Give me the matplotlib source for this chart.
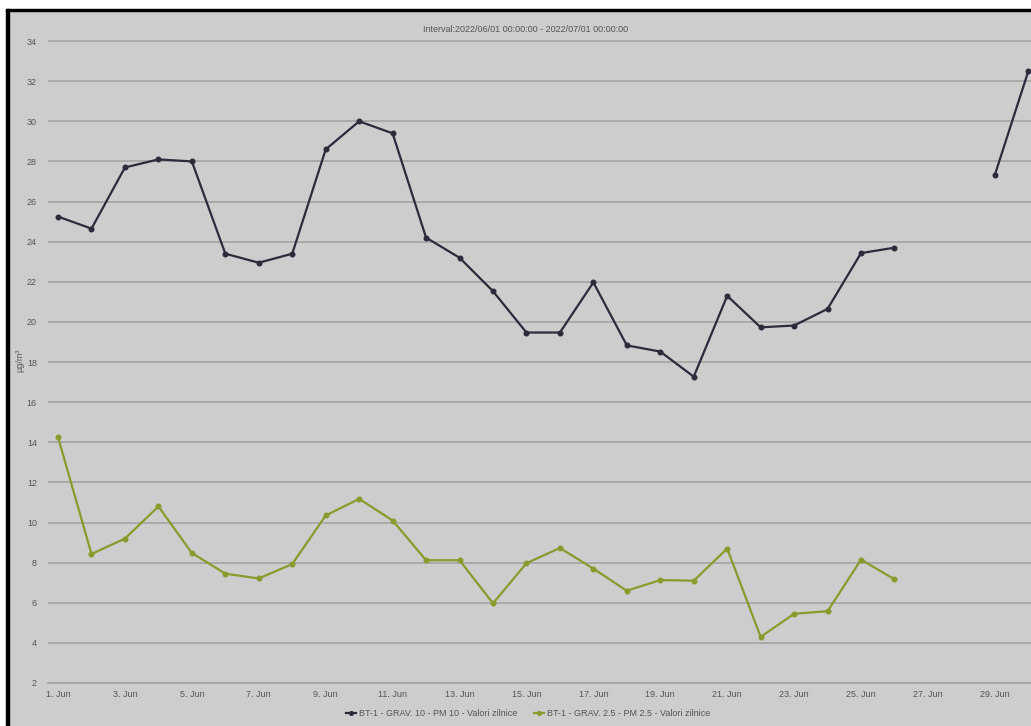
import numpy as np
import matplotlib
matplotlib.use("Agg")
import matplotlib.pyplot as plt
from matplotlib.patches import Rectangle

# date labels (days of June 2022)
days = np.arange(1, 31)
tick_days = [1, 3, 5, 7, 9, 11, 13, 15, 17, 19, 21, 23, 25, 27, 29]
tick_labels = [f"{d}. Jun" for d in tick_days]

nan = np.nan
pm10 = [25.25, 24.65, 27.7, 28.1, 28.0, 23.4, 22.95, 23.4, 28.6, 30.0,
        29.4, 24.2, 23.2, 21.53, 19.47, 19.47, 21.97, 18.83, 18.52, 17.27,
        21.3, 19.73, 19.82, 20.65, 23.43, 23.7, nan, nan, 27.33, 32.5]
pm25 = [14.25, 8.43, 9.2, 10.8, 8.48, 7.45, 7.21, 7.93, 10.35, 11.18,
        10.1, 8.12, 8.12, 5.97, 7.97, 8.73, 7.7, 6.6, 7.13, 7.1,
        8.7, 4.3, 5.45, 5.58, 8.15, 7.17, nan, nan, nan, nan]

name10 = "BT-1 - GRAV. 10 - PM 10 - Valori zilnice"
name25 = "BT-1 - GRAV. 2.5 - PM 2.5 - Valori zilnice"
title = "Interval:2022/06/01 00:00:00 - 2022/07/01 00:00:00"

plt.rcParams["font.family"] = ["Liberation Sans", "DejaVu Sans"]

bg = "#cdcdcd"
txt = "#555555"
grid_c = "#a3a3a3"
c10 = "#2b2b3d"
c25 = "#8a9a2c"

W, H = 1031, 726
fig = plt.figure(figsize=(W / 100, H / 100), dpi=100, facecolor=bg)

# screenshot edge: white margin and a black frame line on the left and top
def add_rect(x0, y0, w, h, c):
    fig.patches.append(Rectangle((x0 / W, 1 - (y0 + h) / H), w / W, h / H,
                                 transform=fig.transFigure, color=c, zorder=10))

add_rect(0, 0, 6, H, "white")
add_rect(0, 0, W, 9, "white")
add_rect(6, 9, 3, H - 9, "black")
add_rect(6, 9, W - 6, 2, "black")

ax = fig.add_axes([48 / W, 1 - 683 / H, 1 - 48 / W, (683 - 21) / H])
ax.set_facecolor(bg)
ax.set_xlim(0.7, 30.08)
ax.set_ylim(2, 35)

ax.plot(days, pm10, color=c10, lw=1.6, marker="o", ms=3.3, label=name10, zorder=3)
ax.plot(days, pm25, color=c25, lw=1.6, marker="o", ms=3.3, label=name25, zorder=3)

ax.set_yticks(np.arange(2, 35, 2))
ax.set_xticks(tick_days)
ax.set_xticklabels(tick_labels)
ax.yaxis.grid(True, color=grid_c, lw=1.2)
ax.set_axisbelow(True)
ax.tick_params(axis="both", length=0, labelsize=6.5, labelcolor=txt)
ax.tick_params(axis="y", pad=8)
ax.tick_params(axis="x", pad=5)
for s in ["top", "right", "left"]:
    ax.spines[s].set_visible(False)
ax.spines["bottom"].set_color(grid_c)
ax.spines["bottom"].set_linewidth(1.2)

fig.text(20 / W, 1 - 360 / H, "µg/m³", rotation=90, ha="center", va="center",
         fontsize=6.5, color=txt)
fig.text(526 / W, 1 - 29 / H, title, ha="center", va="center", fontsize=6.5, color=txt)

leg = fig.legend(loc="center", bbox_to_anchor=(528 / W, 1 - 714 / H), ncol=2,
                 frameon=False, fontsize=6.5, handlelength=1.2, handletextpad=0.3,
                 columnspacing=1.8, markerscale=0.8)
for t in leg.get_texts():
    t.set_color(txt)

fig.savefig("out.png", dpi=100, facecolor=bg)
